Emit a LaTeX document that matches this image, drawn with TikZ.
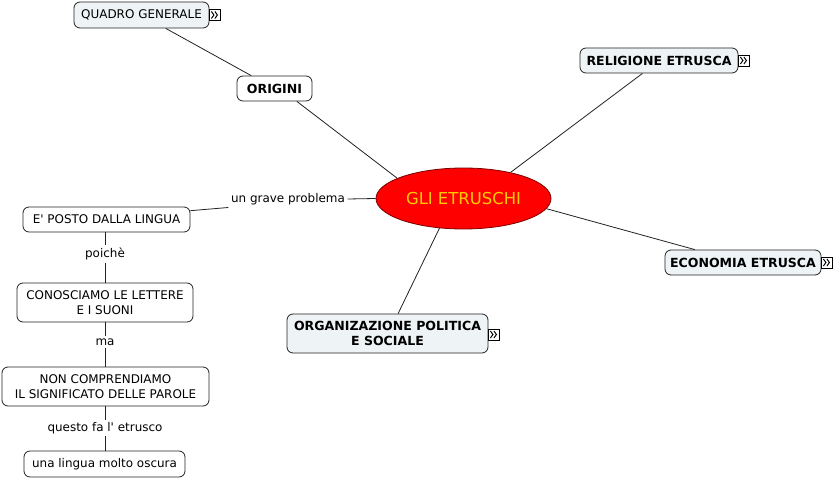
\documentclass[tikz,border=0pt]{standalone}
\usepackage{fontspec}
\setmainfont{DejaVu Sans}
\usetikzlibrary{shapes.geometric,calc}
\definecolor{boxfill}{HTML}{EEF3F5}
\definecolor{ellred}{HTML}{FF0000}
\definecolor{ellborder}{HTML}{7A0000}
\definecolor{ellgold}{HTML}{FFCC00}
\definecolor{linecol}{HTML}{222222}
\newcommand{\nrm}{\fontsize{12}{14.5}\selectfont}
\newcommand{\bld}{\fontsize{12.6}{14.5}\selectfont\bfseries}
\tikzset{
  basebox/.style={draw=linecol, line width=0.8bp, rounded corners=6bp, align=center, inner sep=0pt, font=\nrm, fill=white},
  expbox/.style={basebox, fill=boxfill},
  boldbox/.style={basebox, font=\bld},
  conn/.style={draw=linecol, line width=0.8bp},
  lbltext/.style={font=\nrm, inner sep=2.5bp, fill=white},
  iconbox/.style={draw=black, fill=white, line width=0.8bp, minimum size=11bp, inner sep=0pt,
    path picture={
      \draw[line width=1bp] ([xshift=-3.5bp,yshift=3.5bp]path picture bounding box.center) -- ++(2.5bp,-3.5bp) -- ++(-2.5bp,-3.5bp);
      \draw[line width=1bp] ([xshift=0bp,yshift=3.5bp]path picture bounding box.center) -- ++(2.5bp,-3.5bp) -- ++(-2.5bp,-3.5bp);
    }},
}
\begin{document}
\begin{tikzpicture}[x=1bp,y=-1bp]
\useasboundingbox[fill=white] (0,0) rectangle (834,480);

% central node
\node[ellipse, draw=ellborder, line width=0.8bp, fill=ellred, minimum width=175bp, minimum height=61bp, inner sep=0pt,
      text=ellgold, font=\fontsize{16.5}{18}\selectfont] (ell) at (463.5,198.5) {GLI ETRUSCHI};

% branch nodes
\node[expbox, minimum width=135bp, minimum height=26bp] (quadro) at (141.5,15) {QUADRO GENERALE};
\node[boldbox, minimum width=75bp, minimum height=25bp] (origini) at (274.5,88.5) {ORIGINI};
\node[expbox, font=\bld, minimum width=158bp, minimum height=25bp] (rel) at (659,60.5) {RELIGIONE ETRUSCA};
\node[expbox, font=\bld, minimum width=156bp, minimum height=25bp] (eco) at (743,262.5) {ECONOMIA ETRUSCA};
\node[expbox, font=\bld, minimum width=201bp, minimum height=39bp] (org) at (387.5,333.5) {ORGANIZAZIONE POLITICA\\E SOCIALE};

\node[basebox, minimum width=167bp, minimum height=25bp] (epos) at (106.5,219.5) {E\textquotesingle{} POSTO DALLA LINGUA};
\node[basebox, minimum width=176bp, minimum height=39bp] (cono) at (105,302.5) {CONOSCIAMO LE LETTERE\\E I SUONI};
\node[basebox, minimum width=207bp, minimum height=39bp] (noncomp) at (105.5,386.5) {NON COMPRENDIAMO\\IL SIGNIFICATO DELLE PAROLE};
\node[basebox, minimum width=161bp, minimum height=26bp] (lingua) at (104.5,464) {una lingua molto oscura};

% expand icons
\node[iconbox] (qicon) at ([xshift=5.5bp]quadro.east) {};
\node[iconbox] (ricon) at ([xshift=5.5bp]rel.east) {};
\node[iconbox] (eicon) at ([xshift=5.5bp]eco.east) {};
\node[iconbox] (oicon) at ([xshift=5.5bp,yshift=-1bp]org.east) {};

% linking phrases
\node[lbltext] (lgrave) at (288,199) {un grave problema};
\node[lbltext] (lpoi) at (105,254) {poichè};
\node[lbltext] (lma) at (105,342) {ma};
\node[lbltext] (lquesto) at (105,428) {questo fa l\textquotesingle{} etrusco};

% connectors
\draw[conn] (quadro) -- (origini);
\draw[conn] (origini.-30) -- (ell.163);
\draw[conn] (ell.29) -- (rel.-142);
\draw[conn] (ell.-7) -- (eco.165);
\draw[conn] (ell.-129) -- (org.62);

\draw[conn] (ell.west) -- (lgrave.east);
\draw[conn] (lgrave.south west) -- (epos.6);
\draw[conn] (epos.south -| lpoi.north) -- (lpoi.north);
\draw[conn] (lpoi.south) -- (cono.north -| lpoi.south);
\draw[conn] (cono.south -| lma.north) -- (lma.north);
\draw[conn] (lma.south) -- (noncomp.north -| lma.south);
\draw[conn] (noncomp.south -| lquesto.north) -- (lquesto.north);
\draw[conn] (lquesto.south) -- (lingua.north -| lquesto.south);
\end{tikzpicture}
\end{document}
